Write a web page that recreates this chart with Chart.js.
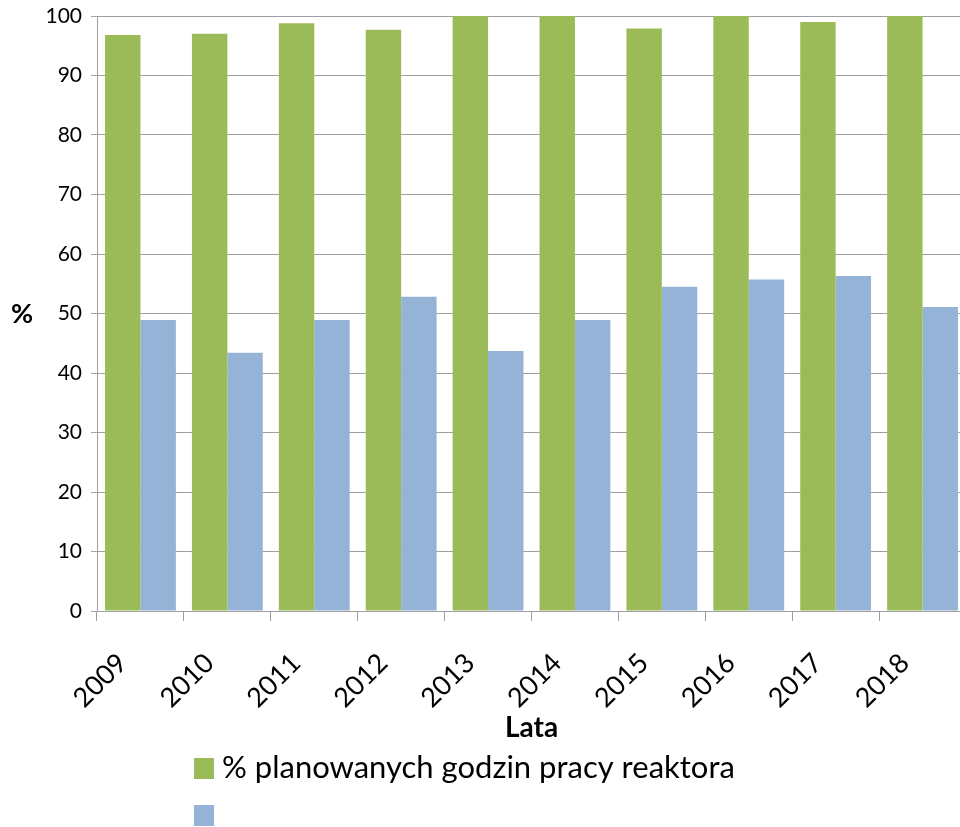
<!DOCTYPE html>
<html>
<head>
<meta charset="utf-8">
<script src="https://cdn.jsdelivr.net/npm/chart.js@4"></script>
<style>
  html, body { margin: 0; padding: 0; background: #fff; }
  #wrap { width: 960px; height: 827px; overflow: hidden; }
  #inner { width: 966px; height: 827px; }
</style>
</head>
<body>
<div id="wrap"><div id="inner"><canvas id="reactorChart"></canvas></div></div>
<script>
const years = ["2009", "2010", "2011", "2012", "2013", "2014", "2015", "2016", "2017", "2018"];
const plannedHours = [96.8, 97.0, 98.8, 97.7, 100, 100, 97.9, 100, 99.0, 100];
const secondSeries = [48.9, 43.4, 48.9, 52.8, 43.7, 48.9, 54.5, 55.7, 56.3, 51.1];
const yTicks = [0, 10, 20, 30, 40, 50, 60, 70, 80, 90, 100];

const fontFamily = "Lato, 'Liberation Sans', sans-serif";
const gridGray = "#a0a0a0";

// legend and "%" label drawn by hand, Excel style
const extrasPlugin = {
    id: "extras",
    afterDraw(chart) {
        const ctx = chart.ctx;
        ctx.save();
        ctx.fillStyle = "#000";
        ctx.font = "bold 27px " + fontFamily;
        ctx.textAlign = "center";
        ctx.textBaseline = "middle";
        ctx.fillText("%", 22, 314);

        chart.data.datasets.forEach((ds, i) => {
            const y = 768 + i * 47;
            ctx.fillStyle = ds.backgroundColor;
            ctx.fillRect(194, y - 10, 20, 21);
            ctx.fillStyle = "#000";
            ctx.font = "31px " + fontFamily;
            ctx.textAlign = "left";
            ctx.fillText(ds.label, 222, y);
        });
        ctx.restore();
    }
};

const ctx = document.getElementById("reactorChart").getContext("2d");
new Chart(ctx, {
    type: "bar",
    data: {
        labels: years,
        datasets: [{
            label: "% planowanych godzin pracy reaktora",
            data: plannedHours,
            backgroundColor: "#9BBB59",
            categoryPercentage: 0.815,
            barPercentage: 1
        }, {
            label: "",
            data: secondSeries,
            backgroundColor: "#95B3D7",
            categoryPercentage: 0.815,
            barPercentage: 1
        }]
    },
    plugins: [extrasPlugin],
    options: {
        responsive: true,
        maintainAspectRatio: false,
        animation: false,
        layout: { padding: { top: 16, right: 0, bottom: 0, left: 0 } },
        plugins: {
            legend: { display: false },
            tooltip: { enabled: false }
        },
        scales: {
            x: {
                grid: {
                    offset: true,
                    drawOnChartArea: false,
                    drawTicks: true,
                    tickLength: 10,
                    color: gridGray
                },
                border: { color: gridGray },
                ticks: {
                    color: "#000",
                    font: { family: fontFamily, size: 27 },
                    minRotation: 45,
                    maxRotation: 45,
                    labelOffset: -18,
                    padding: 26
                },
                title: {
                    display: true,
                    text: "Lata",
                    color: "#000",
                    font: { family: fontFamily, size: 28, weight: "bold" },
                    padding: { top: 0, bottom: 82 }
                },
                afterFit(scale) {
                    scale.height = 216;
                    scale.paddingLeft = 0;
                    scale.paddingRight = 0;
                }
            },
            y: {
                min: 0,
                max: 100,
                afterBuildTicks(scale) { scale.ticks = yTicks.map(v => ({ value: v })); },
                grid: {
                    color: gridGray,
                    tickLength: 6
                },
                border: { color: gridGray },
                ticks: {
                    color: "#000",
                    font: { family: fontFamily, size: 21 },
                    padding: 9
                },
                afterFit(scale) {
                    scale.width = 97;
                    scale.paddingTop = 0;
                    scale.paddingBottom = 0;
                }
            }
        }
    }
});
</script>
</body>
</html>
